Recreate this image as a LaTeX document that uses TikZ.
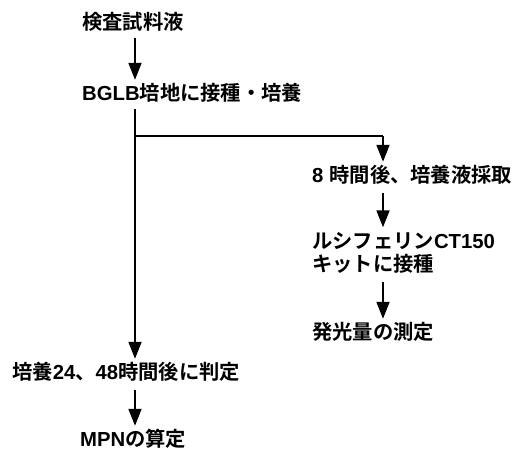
\documentclass[tikz,border=0pt]{standalone}
\usepackage{fontspec}
\newfontfamily\jp{Noto Sans CJK JP}[BoldFont={* Bold}]
\newfontfamily\lat{Liberation Sans}
\newcommand{\latn}[1]{{\lat\bfseries #1}}
\usetikzlibrary{arrows.meta,calc}
\begin{document}
\begin{tikzpicture}[x=1pt,y=-1pt,
  lbl/.style={anchor=west,inner sep=0pt,font=\jp\bfseries\fontsize{20.3}{23}\selectfont,text height=15pt,text depth=3pt,align=left},
  arr/.style={line width=1.8pt,-{Triangle[width=13pt,length=17pt]}},
  ln/.style={line width=1.8pt}]
\useasboundingbox (0,0) rectangle (516,451);
\coordinate (xm) at (135,0);
\coordinate (xb) at (383,0);
\node[lbl] (t1) at (82,23) {検査試料液};
\node[lbl] (t2) at (82,94) {\latn{BGLB}培地に接種・培養};
\node[lbl] (t3) at (312,176) {\latn{8}\hspace{6pt}時間後、培養液採取};
\node[lbl,text height=,text depth=] (t4) at (312,253) {ルシフェリン\latn{CT150}\\キットに接種};
\node[lbl] (t5) at (312,333) {発光量の測定};
\node[lbl] (t6) at (12,373) {培養\latn{24}、\latn{48}時間後に判定};
\node[lbl] (t7) at (80,440) {\latn{MPN}の算定};
\coordinate (br) at (135,136);
\draw[arr,shorten <=6pt,shorten >=5pt] (t1.south -| xm) -- (t2.north -| xm);
\draw[arr,shorten <=6pt,shorten >=5pt] (t2.south -| xm) -- (t6.north -| xm);
\draw[ln] (br) -- (br -| xb);
\draw[arr,shorten >=5pt] (br -| xb) -- (t3.north -| xb);
\draw[arr,shorten <=8pt,shorten >=5pt] (t3.south -| xb) -- (t4.north -| xb);
\draw[arr,shorten <=8pt,shorten >=5pt] (t4.south -| xb) -- (t5.north -| xb);
\draw[arr,shorten <=8pt,shorten >=5pt] (t6.south -| xm) -- (t7.north -| xm);
\end{tikzpicture}
\end{document}
